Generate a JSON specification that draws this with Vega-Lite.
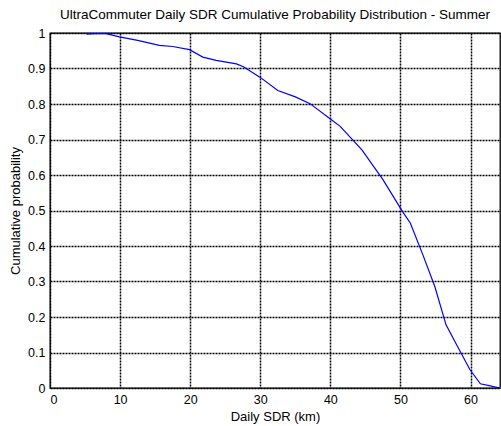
{
  "$schema": "https://vega.github.io/schema/vega-lite/v6.json",
  "width": 450,
  "height": 355,
  "autosize": {"type": "none"},
  "padding": {"left": 50, "top": 33, "right": 1, "bottom": 38},
  "background": "white",
  "config": {
    "font": "Liberation Sans",
    "view": {"stroke": "black", "strokeWidth": 1.3},
    "axis": {
      "grid": true,
      "gridColor": "black",
      "gridOpacity": 1,
      "gridDash": [2, 1],
      "gridWidth": 1.5,
      "domain": false,
      "ticks": false,
      "labelFont": "Liberation Sans",
      "labelFontSize": 12.5,
      "labelColor": "black",
      "titleFont": "Liberation Sans",
      "titleFontSize": 13,
      "titleFontWeight": "normal",
      "titleColor": "black"
    },
    "title": {"font": "Liberation Sans", "fontSize": 13.5, "fontWeight": "normal", "color": "black", "offset": 6}
  },
  "title": "UltraCommuter Daily SDR Cumulative Probability Distribution - Summer",
  "data": {
    "values": [
      {"sdr": 5.2, "p": 0.997},
      {"sdr": 6.5, "p": 0.998},
      {"sdr": 8.0, "p": 0.998},
      {"sdr": 9.9, "p": 0.989},
      {"sdr": 12.5, "p": 0.979},
      {"sdr": 15.6, "p": 0.965},
      {"sdr": 17.5, "p": 0.962},
      {"sdr": 19.9, "p": 0.953},
      {"sdr": 21.8, "p": 0.932},
      {"sdr": 23.7, "p": 0.923},
      {"sdr": 26.6, "p": 0.913},
      {"sdr": 27.6, "p": 0.905},
      {"sdr": 30.0, "p": 0.875},
      {"sdr": 32.5, "p": 0.838},
      {"sdr": 35.0, "p": 0.82},
      {"sdr": 37.1, "p": 0.801},
      {"sdr": 40.0, "p": 0.758},
      {"sdr": 41.4, "p": 0.737},
      {"sdr": 44.5, "p": 0.671},
      {"sdr": 47.5, "p": 0.587},
      {"sdr": 50.3, "p": 0.497},
      {"sdr": 51.4, "p": 0.465},
      {"sdr": 53.2, "p": 0.375},
      {"sdr": 54.9, "p": 0.286},
      {"sdr": 56.5, "p": 0.178},
      {"sdr": 58.2, "p": 0.115},
      {"sdr": 59.9, "p": 0.052},
      {"sdr": 61.4, "p": 0.012},
      {"sdr": 62.8, "p": 0.006},
      {"sdr": 64.2, "p": 0.0}
    ]
  },
  "mark": {"type": "line", "color": "#0000ff", "strokeWidth": 1.2, "clip": true},
  "encoding": {
    "x": {
      "field": "sdr",
      "type": "quantitative",
      "scale": {"domain": [0, 64.2], "nice": false, "zero": false},
      "axis": {"values": [0, 10, 20, 30, 40, 50, 60], "title": "Daily SDR (km)", "labelPadding": 5, "titlePadding": 5}
    },
    "y": {
      "field": "p",
      "type": "quantitative",
      "scale": {"domain": [0, 1], "nice": false},
      "axis": {"values": [0, 0.1, 0.2, 0.3, 0.4, 0.5, 0.6, 0.7, 0.8, 0.9, 1], "format": "~g", "title": "Cumulative probability", "labelPadding": 5, "titlePadding": 5}
    }
  }
}
